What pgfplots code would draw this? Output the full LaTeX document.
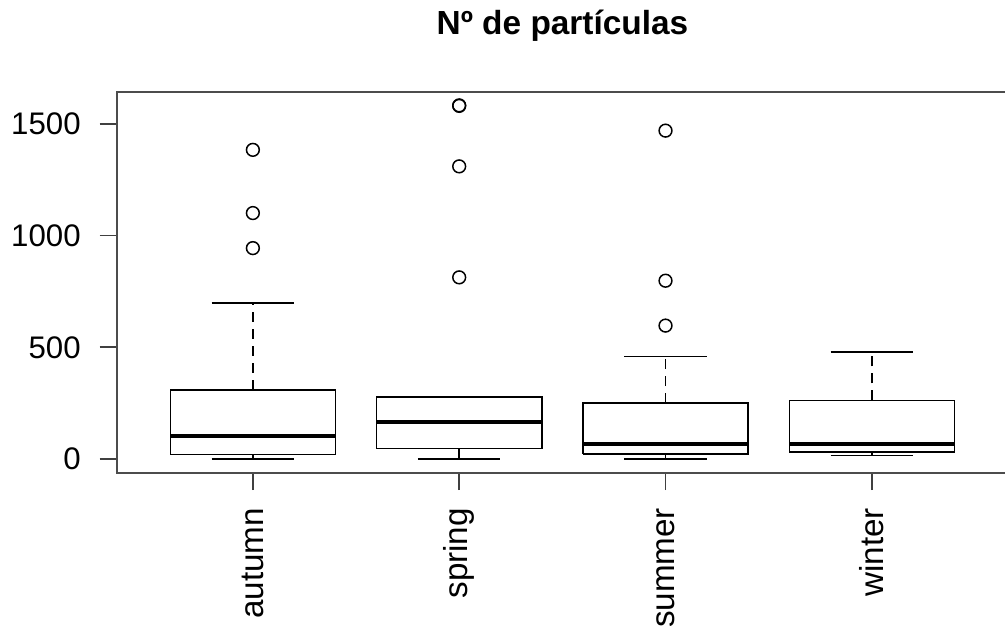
\documentclass[border=0pt]{standalone}
\usepackage{fontspec}
\setmainfont{Liberation Sans}
\usepackage{pgfplots}
\pgfplotsset{compat=1.18}
\begin{document}
\begin{tikzpicture}
\useasboundingbox (0,0) rectangle (502.5pt,316pt);
\begin{axis}[
  at={(58.35pt,79.5pt)}, anchor=south west,
  scale only axis, width=445.65pt, height=190.5pt,
  xmin=0.34, xmax=4.66, ymin=-63, ymax=1643,
  axis line style={black!70, line width=1pt},
  xtick={1,2,3,4}, xticklabels={autumn,spring,summer,winter},
  ytick={0,500,1000,1500}, yticklabels={0,500,1000,1500},
  tick align=outside, major tick length=8.5pt,
  tick style={black!75, line width=0.8pt},
  xtick pos=bottom, ytick pos=left,
  /pgf/number format/assume math mode=true,
  yticklabel style={anchor=east, xshift=-6pt, font=\fontsize{15.6}{19}\selectfont},
  xticklabel style={rotate=90, anchor=east, xshift=-5.5pt, font=\fontsize{16.6}{19}\selectfont},
  clip=false,
  box/.style={black, line width=0.8pt, no marks},
  wh/.style={black, line width=0.8pt, no marks, dash pattern=on 5pt off 3.5pt},
  med/.style={black, line width=2.1pt, no marks},
]
% autumn
\addplot[wh] coordinates {(1,310)(1,697)};
\addplot[wh] coordinates {(1,19)(1,0)};
\addplot[box] coordinates {(0.8,697)(1.2,697)};
\addplot[box] coordinates {(0.8,0)(1.2,0)};
\addplot[box] coordinates {(0.6,19)(1.4,19)(1.4,310)(0.6,310)(0.6,19)};
\addplot[med] coordinates {(0.6,104)(1.4,104)};
% spring
\addplot[wh] coordinates {(2,46)(2,0)};
\addplot[box] coordinates {(1.8,277)(2.2,277)};
\addplot[box] coordinates {(1.8,0)(2.2,0)};
\addplot[box] coordinates {(1.6,46)(2.4,46)(2.4,277)(1.6,277)(1.6,46)};
\addplot[med] coordinates {(1.6,164)(2.4,164)};
% summer
\addplot[wh] coordinates {(3,250)(3,458)};
\addplot[wh] coordinates {(3,22)(3,0)};
\addplot[box] coordinates {(2.8,458)(3.2,458)};
\addplot[box] coordinates {(2.8,0)(3.2,0)};
\addplot[box] coordinates {(2.6,22)(3.4,22)(3.4,250)(2.6,250)(2.6,22)};
\addplot[med] coordinates {(2.6,68)(3.4,68)};
% winter
\addplot[wh] coordinates {(4,262)(4,479)};
\addplot[wh] coordinates {(4,31)(4,16)};
\addplot[box] coordinates {(3.8,479)(4.2,479)};
\addplot[box] coordinates {(3.8,16)(4.2,16)};
\addplot[box] coordinates {(3.6,31)(4.4,31)(4.4,262)(3.6,262)(3.6,31)};
\addplot[med] coordinates {(3.6,68)(4.4,68)};
% outliers
\addplot[only marks, mark=o, mark size=3.2pt, black, line width=0.75pt] coordinates {
(1,1384) (1,1101) (1,944)
(2,1581) (2,1583) (2,1310) (2,813)
(3,1470) (3,798) (3,597)
};
\end{axis}
\node[anchor=base, font=\fontsize{16.7}{20}\selectfont\bfseries] at (281.25pt,298.5pt) {Nº de partículas};
\end{tikzpicture}
\end{document}
